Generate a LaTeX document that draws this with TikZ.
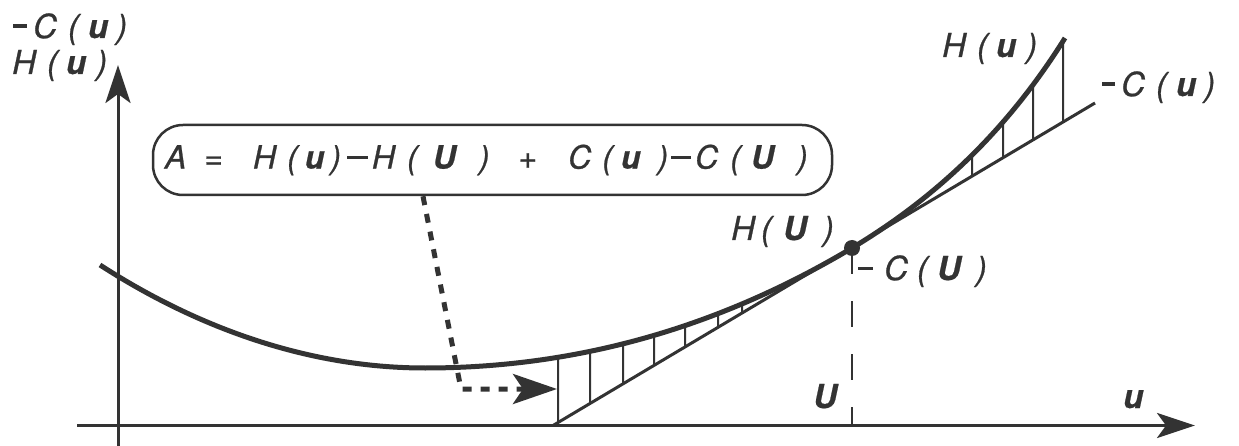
\documentclass[tikz,border=0pt]{standalone}
\usepackage{fontspec}
\setmainfont{TeX Gyre Heros}[ItalicFeatures={FakeBold=0.8}, BoldItalicFeatures={FakeBold=0.6}]
\usetikzlibrary{arrows.meta,intersections,calc}
\definecolor{ink}{gray}{0.2}
\newcommand\hsp[1]{\hspace{#1pt}}
\newcommand\mydash[2]{\rule[#1pt]{#2pt}{3.5pt}}
\newcommand\myu{\textbf{u}}
\newcommand\myU{\textbf{U}}
\begin{document}
\begin{tikzpicture}[x=1pt,y=-1pt,
  lbl/.style={inner sep=0pt, text=ink, font=\fontsize{33}{38}\selectfont\itshape},
  boxtext/.style={text=ink, font=\fontsize{32}{37}\selectfont\itshape},
  axisline/.style={ink, line width=3pt, -{Stealth[length=38pt,width=25pt,inset=9pt]}},
  hatch/.style={ink, line width=2pt},
  pointer/.style={ink, line width=5pt, dash pattern=on 9pt off 9pt, -{Stealth[length=44pt,width=30pt,inset=10pt]}}]
\useasboundingbox (0,0) rectangle (1239,446);
\fill[white] (0,0) rectangle (1239,446);

% axes
\coordinate (yb) at (118,446);
\coordinate (yt) at (118,65);
\coordinate (xl) at (77,425.5);
\coordinate (xr) at (1195,425.5);
\draw[axisline] (yb) -- (yt);
\draw[axisline] (xl) -- (xr);

% curve H(u) and tangent -C(u)
\draw[ink, line width=5pt, name path=H] (100,265) .. controls (207,334) and (318,368) .. (425,368)
  .. controls (576,368) and (718,328) .. (852,248)
  .. controls (932,200) and (1005,134) .. (1065,38);
\draw[ink, line width=3pt, name path=T] (553,425.5) -- (1095,103);

% hatching
\foreach \xx in {558,590,623,654,685,718,742,972,1003,1033,1063} {
  \path[name path=V] (\xx,0) -- (\xx,446);
  \draw[hatch, name intersections={of=H and V, name=a}, name intersections={of=T and V, name=b}] (a-1) -- (b-1);
}

% tangency point
\node[circle, fill=ink, minimum size=16pt, inner sep=0pt] (P) at (852,248) {};
\coordinate (Pb) at (852,425.5);
\draw[ink, line width=2pt, dash pattern=on 26pt off 27pt] (P.center) -- (Pb);

% formula box
\node[boxtext, draw=ink, line width=2.5pt, rounded corners=30pt, inner xsep=12pt, inner ysep=0pt,
      text width=655pt, align=left, minimum height=70pt] (box) at (492.5,160)
  {A\hsp{18}=\hsp{30}H\hsp{11}(\hsp{7}\myu\hsp{6})\hsp{6}\mydash{9.5}{21}\hsp{4}H\hsp{12}(\hsp{15}\myU\hsp{23})\hsp{29}+\hsp{31}C\hsp{11}(\hsp{8}\myu\hsp{17})\hsp{3}\mydash{9.5}{20}\hsp{4}C\hsp{12}(\hsp{10}\myU\hsp{23})};

% dotted pointer
\coordinate (k1) at (461,389);
\coordinate (k2) at (557,389);
\draw[pointer] (423,0 |- box.south) -- (k1) -- (k2);

% labels
\node[lbl, anchor=base west] (lyC) at (13,38) {\mydash{10}{14}\hsp{6}C\hsp{11}(\hsp{9}\myu\hsp{8})};
\node[lbl, anchor=base west] (lyH) at (12,74) {H\hsp{11}(\hsp{8}\myu\hsp{10})};
\node[lbl, anchor=base west] (lHu) at (942,57) {H\hsp{11}(\hsp{8}\myu\hsp{10})};
\node[lbl, anchor=base west] (lCu) at (1102,96) {\mydash{10}{13}\hsp{6}C\hsp{11}(\hsp{9}\myu\hsp{8})};
\node[lbl, anchor=base west] (lHU) at (731,240) {H\hsp{6}(\hsp{11}\myU\hsp{16})};
\node[lbl, anchor=base west] (lCU) at (858,280) {\mydash{10}{15}\hsp{11}C\hsp{9}(\hsp{9}\myU\hsp{15})};
\node[lbl, anchor=base west] (lU) at (813,408) {\myU};
\node[lbl, anchor=base west] (lu) at (1123,408) {\myu};
\end{tikzpicture}
\end{document}
